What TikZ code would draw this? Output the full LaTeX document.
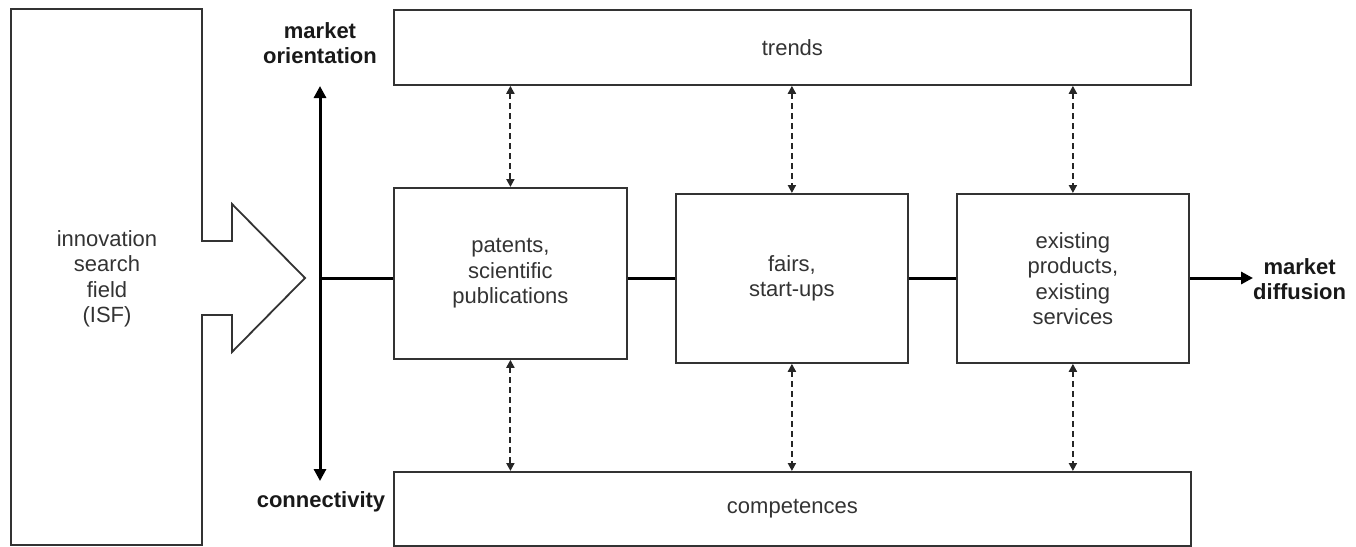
\documentclass[tikz,border=0pt]{standalone}
\usepackage{fontspec}
\setmainfont{Liberation Sans}
\usetikzlibrary{arrows.meta}
\begin{document}
\begin{tikzpicture}[x=1pt,y=-1pt,
  box/.style={draw=black!80, line width=1.8pt, inner sep=0pt,
    font=\fontsize{22}{25.5}\selectfont, text=black!80, align=center},
  txt/.style={font=\fontsize{22}{25.5}\selectfont, text=black!80, align=center, inner sep=0pt},
  btxt/.style={font=\fontsize{22}{25.5}\selectfont\bfseries, text=black!90, align=center, inner sep=0pt},
  axis/.style={line width=3pt, draw=black},
  bigtip/.style={-{Triangle[length=12pt,width=12pt]}},
  dasharrow/.style={line width=2pt, draw=black!85, dash pattern=on 6pt off 4pt,
    {Triangle[length=8pt,width=8pt]}-{Triangle[length=8pt,width=8pt]}}
]
\useasboundingbox (0,0) rectangle (1356,546);

% left block arrow shape
\draw[draw=black!80, line width=1.8pt, line join=miter]
  (11,9) -- (202,9) -- (202,241) -- (232,241) -- (232,204) -- (305,278)
  -- (232,352) -- (232,315) -- (202,315) -- (202,545) -- (11,545) -- cycle;
\node[txt] (isf) at (107,279) {innovation\\search\\field\\(ISF)};

% boxes
\node[box, anchor=north west, minimum width=797pt, minimum height=75pt] (trends) at (393,9) {trends};
\node[box, anchor=north west, minimum width=797pt, minimum height=74pt] (comp) at (393,471) {competences};
\node[box, anchor=north west, minimum width=233pt, minimum height=171pt] (b1) at (393,187) {patents,\\scientific\\publications};
\node[box, anchor=north west, minimum width=232pt, minimum height=169pt] (b2) at (675,193) {fairs,\\start-ups};
\node[box, anchor=north west, minimum width=232pt, minimum height=169pt] (b3) at (956,193) {existing\\products,\\existing\\services};

% axis
\coordinate (hub) at (320,278);
\coordinate (axtop) at (320,86);
\coordinate (axbot) at (320,481);
\draw[axis, {Triangle[length=12pt,width=12pt]}-{Triangle[length=12pt,width=12pt]}] (axtop) -- (axbot);
\node[btxt] (mo) at (320,43) {market\\orientation};
\node[btxt] (conn) at (321,502) {connectivity};

% horizontal chain
\draw[axis] (hub) -- (hub -| b1.west);
\draw[axis] (b1.east |- hub) -- (b2.west |- hub);
\draw[axis] (b2.east |- hub) -- (b3.west |- hub);
\coordinate (mdtip) at (1253,278);
\draw[axis, bigtip] (b3.east |- hub) -- (mdtip);
\node[btxt, anchor=west] (md) at (1253,279) {market\\diffusion};

% dashed double arrows
\foreach \b in {b1,b2,b3}{
  \draw[dasharrow] (\b.north |- trends.south) -- (\b.north);
  \draw[dasharrow] (\b.south) -- (\b.south |- comp.north);
}
\end{tikzpicture}
\end{document}
